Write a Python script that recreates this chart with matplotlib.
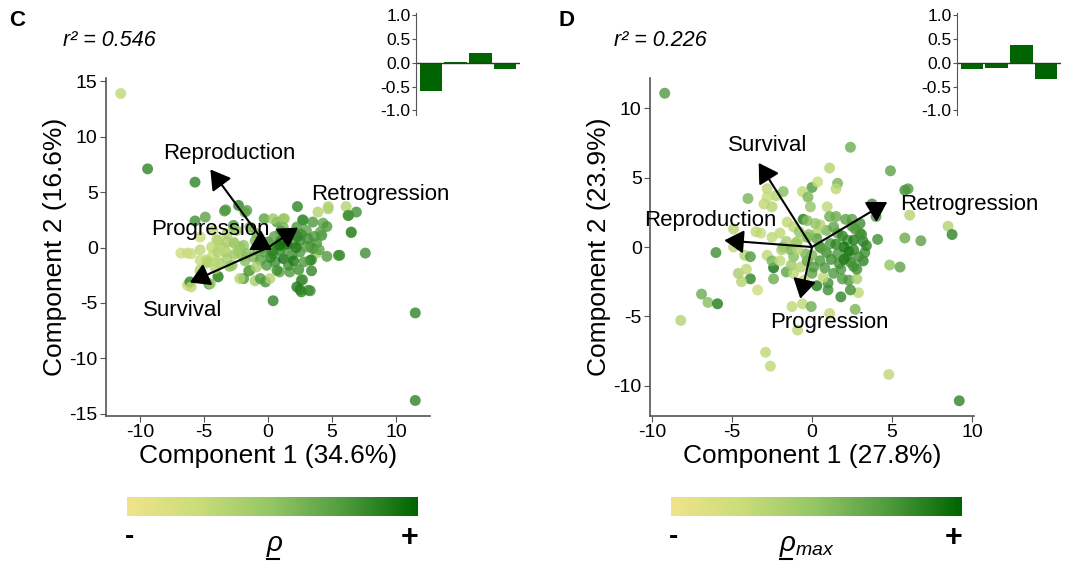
#### PCA biplots (panels C and D) with loading insets and colour bars

import numpy as np
import matplotlib
matplotlib.use('Agg')
import matplotlib.pyplot as plt
from matplotlib.colors import LinearSegmentedColormap
from matplotlib.cm import ScalarMappable
from matplotlib.lines import Line2D

plt.rcParams['font.family'] = ['Liberation Sans', 'DejaVu Sans']
plt.rcParams['mathtext.fontset'] = 'custom'
plt.rcParams['mathtext.rm'] = 'Liberation Sans'
plt.rcParams['mathtext.it'] = 'Liberation Sans:italic'
plt.rcParams['axes.unicode_minus'] = False

#### data ####

vital_rates = ['Survival', 'Progression', 'Retrogression', 'Reproduction']

# panel C scores (component 1, component 2, shade 0 = low rho, 1 = high rho)
c_x = [-11.5, -9.4, -5.7, -5.7, 11.5, 11.5, 7.6, 5.5, 4.6, 6.5, 6.9, 6.3, 6.1, 4.7, 3.9, 2.3,
       0.4, 3.3, 2.5, 2.7, 3.4, 2.4, 1.7, 0.9, -0.2, -1.0, -1.9, -1.5, -4.6, -6.3, -6.1, -3.9,
       -3.4, -2.3, -2.7, -0.3, 0.7, 1.3, 2.7, 3.5, 4.3, 4.6, 4.2, 3.8, 3.3, 3.8, 3.4,
       -6.8, -6.3, -5.3, -4.8, -4.3, -3.8, -3.3, -4.0, -2.7, -2.2, -1.95, -3.8, -3.0, -5.3, -4.8,
       -3.3, -1.8, 4.7, 6.25, 6.5, 5.6, -4.9, 0.4, 1.2, 2.75, 4.1, 3.5, 3.3, 0.7, 0.15, -0.6,
       -1.4, -2.2, 2.6, 2.25, 3.15, 2.6, -3.9, -4.5, -6.0, -4.1, -5.3, -6.0, -4.4, -3.9, -3.4,
       -5.3, -4.7, -4.0, -3.2, -2.8, -3.9, -3.2, -2.6, -1.9, -2.3, -1.65, -1.15, -0.6, -0.9,
       -0.1, 0.55, 1.2, 1.85, 2.5, 3.0, 2.5, 2.0, 1.45, 0.95, 0.4, 0.7, 1.45, 3.0, 2.25, -0.9,
       -1.4, -2.45, -3.2, -4.3, -5.3, -1.65, 0.0, 0.5, 1.0, 1.8, 2.2, -0.5, -1.0, 0.2, 1.6,
       2.8, -0.3, 1.2, 2.6, 3.6, 4.0, 1.5, 0.3, -0.8, 2.0, 3.1, 1.0, -1.8, 0.9, 2.3, -2.6]
c_y = [13.9, 7.1, 5.9, 2.4, -5.9, -13.8, -0.5, -0.7, -0.8, 1.4, 3.2, 2.9, 3.7, 3.5, 3.2, 3.7,
       -4.8, -3.9, -3.8, -2.9, -2.1, -2.0, -2.2, -2.2, -3.1, -3.0, -2.8, -2.1, -3.3, -3.4, -3.1, -2.6,
       3.3, 3.8, 2.0, 2.6, 2.3, 2.6, 2.5, 2.3, 2.2, 1.9, 1.1, 0.4, 0.1, -0.5, -1.1,
       -0.5, -0.5, -0.2, -1.1, -0.7, 0.1, -0.4, 0.7, 0.5, 0.1, -0.8, -1.4, -1.7, -2.0, -1.4,
       3.4, 3.2, 3.7, 2.9, 1.35, -0.7, 2.75, 2.6, 2.6, 2.45, 1.4, -0.1, -1.15, -2.05, -2.8, -2.8,
       -2.05, -2.8, -2.95, -3.55, -3.85, -4.0, -2.65, -3.25, -3.55, -1.9, -2.2, -0.55, 0.05, -0.4, -0.1,
       -1.15, -1.3, -1.3, -1.0, -1.6, 0.65, 0.5, 0.35, 0.2, -0.4, -0.55, -0.85, -1.15, -1.75,
       -1.6, -1.3, -1.0, -0.7, -0.4, 0.05, 0.65, 0.35, -0.1, -0.25, -0.55, 0.2, 0.95, 1.55, 1.85, 1.25,
       1.85, 1.55, 1.25, 1.55, 0.95, 3.35, 0.5, 1.0, 0.6, 1.2, 0.0, 0.0, 0.6, -0.9, -1.6,
       -1.3, -0.4, 1.8, 1.2, 1.0, -0.2, 0.3, -0.3, -0.3, -1.2, 0.8, 1.5, -1.2, 0.2, 1.0, -0.6]
c_v = [0.3, 0.85, 0.85, 0.8, 0.85, 0.85, 0.8, 0.8, 0.75, 0.8, 0.8, 0.75, 0.35, 0.4, 0.35, 0.85,
       0.85, 0.8, 0.85, 0.8, 0.85, 0.8, 0.75, 0.7, 0.8, 0.4, 0.75, 0.8, 0.8, 0.25, 0.85, 0.75,
       0.75, 0.85, 0.75, 0.7, 0.75, 0.35, 0.8, 0.75, 0.7, 0.75, 0.8, 0.75, 0.7, 0.4, 0.75,
       0.2, 0.25, 0.3, 0.3, 0.25, 0.3, 0.35, 0.3, 0.4, 0.4, 0.45, 0.4, 0.5, 0.35, 0.3,
       0.75, 0.7, 0.35, 0.8, 0.8, 0.8, 0.7, 0.45, 0.5, 0.8, 0.7, 0.8, 0.85, 0.8, 0.35, 0.75,
       0.65, 0.35, 0.8, 0.9, 0.8, 0.85, 0.8, 0.45, 0.3, 0.35, 0.3, 0.25, 0.3, 0.35, 0.3,
       0.25, 0.35, 0.3, 0.4, 0.5, 0.35, 0.4, 0.45, 0.5, 0.45, 0.55, 0.6, 0.7, 0.4,
       0.75, 0.8, 0.95, 0.8, 0.75, 0.7, 0.8, 0.75, 0.7, 0.8, 0.85, 0.75, 0.7, 0.7, 0.75, 0.6,
       0.65, 0.5, 0.4, 0.3, 0.25, 0.7, 0.8, 0.7, 0.85, 0.75, 0.9, 0.7, 0.6, 0.85, 0.8,
       0.75, 0.75, 0.6, 0.8, 0.75, 0.7, 0.9, 0.85, 0.65, 0.9, 0.8, 0.75, 0.55, 0.95, 0.85, 0.45]

# panel D scores (shade 0 = low rho_max, 1 = high rho_max)
d_x = [-9.2, 2.4, 4.9, 1.1, 1.6, 1.5, 0.0, 0.35, 5.8, 6.0, 6.1, 4.0, 8.5, 8.75, 5.8, 6.8,
       4.1, 4.85, 5.5, 4.8, 9.2, -2.9, -2.6, -0.9, -1.25, -0.6, -0.05, 1.1, 2.7, 2.9, 1.8, 1.0,
       -8.2, -6.9, -6.5, -5.9, -6.0, -4.9, -4.9, -4.0, -3.85, -4.6, -4.4, -3.4, -4.1, -4.2, -3.85,
       -3.0, -2.8, -2.25, -1.8, -2.8, -3.0, -2.5, -0.6, -0.25, -0.1, 0.95, 1.5, 2.1, 2.5, 3.75,
       -0.55, -1.55, -2.4, -2.4, -1.6, 0.3, 1.0, 1.9, 2.3, 2.8, 2.4, 1.8, 2.6, 3.2, 3.3, 3.2,
       3.0, 3.0, 2.7, -2.0, -2.5, -3.2, -3.5, -2.8, -2.5, -1.8, -2.0, -1.15, -0.7, -0.3, 0.5,
       0.9, 1.6, 2.2, 2.6, 2.2, 1.6, 0.9, 0.3, -0.3, -0.9, -1.35, -1.15, 0.5, 1.35, 2.0, 2.6,
       2.4, 2.8, 1.35, 0.7, 0.0, -0.5, 0.1, 0.5, 1.15, -0.3, -1.15,
       -1.0, -0.4, 0.3, 1.2, 1.9, 2.9, -1.6, -0.8, 0.8, 1.5, 2.3, 3.1, -1.3, -0.2, 0.6, 1.7,
       2.5, -0.9, 0.2, 1.1, 2.0, -1.9, 3.4, 0.0]
d_y = [11.1, 7.2, 5.5, 5.7, 4.6, 4.2, 4.3, 4.7, 4.1, 4.2, 2.3, 2.2, 1.5, 0.9, 0.65, 0.45,
       0.55, -1.3, -1.45, -9.2, -11.1, -7.6, -8.6, -6.0, -4.3, -4.1, -4.3, -4.8, -4.5, -3.3, -3.6, -3.1,
       -5.3, -3.4, -4.0, -4.1, -0.4, 0.0, 1.3, 3.5, -2.3, -1.9, -2.5, -3.1, -1.6, -0.6, -0.7,
       5.1, 4.2, 3.7, 4.0, 3.6, 3.1, 2.9, 4.0, 3.6, 2.9, 2.9, 2.2, 2.0, 2.0, 3.1,
       2.0, 1.8, -2.3, -1.5, -1.8, -2.8, -2.6, -2.3, -2.4, -2.3, -3.1, -1.6, -1.4, -1.0, -0.4, 0.4,
       1.0, 1.7, 1.3, 1.0, 0.7, 1.0, 1.1, -0.6, -1.0, 0.0, -1.0, -1.9, -1.45, -1.0, -1.0,
       -0.4, -0.5, -0.7, -0.2, 0.5, 1.0, 1.2, 1.0, 0.7, 0.4, -0.2, 1.45, 1.6, 1.45, 0.0, 0.5,
       -1.1, -1.6, -1.9, -2.2, -1.9, -2.4, -1.45, 0.0, 0.25, 1.9, -0.7,
       0.3, -0.5, 0.6, -0.9, 0.8, -0.7, 0.4, 1.1, -1.5, 0.2, -0.3, 0.9, -1.3, 0.9, -0.1, -1.2,
       1.5, -0.2, 1.7, 2.2, -0.9, -0.2, 0.1, -0.6]
d_v = [0.75, 0.65, 0.7, 0.35, 0.6, 0.3, 0.75, 0.25, 0.8, 0.75, 0.35, 0.75, 0.35, 0.85, 0.65, 0.7,
       0.8, 0.5, 0.7, 0.3, 0.85, 0.3, 0.3, 0.3, 0.3, 0.3, 0.65, 0.3, 0.6, 0.3, 0.85, 0.8,
       0.35, 0.65, 0.55, 0.9, 0.8, 0.3, 0.35, 0.6, 0.85, 0.4, 0.35, 0.2, 0.3, 0.35, 0.75,
       0.2, 0.3, 0.35, 0.55, 0.25, 0.3, 0.35, 0.3, 0.6, 0.5, 0.3, 0.65, 0.7, 0.7, 0.8,
       0.9, 0.3, 0.65, 0.95, 0.7, 0.9, 0.8, 0.75, 0.75, 0.4, 0.8, 0.75, 0.8, 0.85, 0.8, 0.85,
       0.8, 0.8, 0.75, 0.3, 0.3, 0.25, 0.3, 0.3, 0.6, 0.65, 0.3, 0.3, 0.35, 0.7, 0.75,
       0.8, 0.75, 0.8, 0.85, 0.75, 0.7, 0.6, 0.35, 0.6, 0.35, 0.6, 0.3, 0.35, 0.7, 0.95, 0.9,
       0.8, 0.8, 0.75, 0.3, 0.7, 0.3, 0.75, 0.9, 0.75, 0.55, 0.55,
       0.45, 0.6, 0.7, 0.8, 0.85, 0.8, 0.4, 0.5, 0.75, 0.85, 0.9, 0.8, 0.45, 0.55, 0.7, 0.8,
       0.75, 0.35, 0.5, 0.65, 0.9, 0.4, 0.85, 0.6]

# loading vectors (component 1, component 2) in the order of vital_rates
c_arrow_x = [-6.1, 0.3, 2.35, -4.5]
c_arrow_y = [-3.15, -0.2, 1.8, 7.05]
d_arrow_x = [-3.33, -0.73, 4.7, -5.48]
d_arrow_y = [6.07, -3.73, 3.25, 0.48]

# label positions
c_label_x = [-6.7, -4.5, 8.75, -3.0]
c_label_y = [-5.65, 1.65, 4.8, 8.5]
d_label_x = [-2.8, 1.1, 9.8, -6.35]
d_label_y = [7.35, -5.45, 3.1, 1.9]

# inset bar values
c_bars = [-0.6, 0.01, 0.2, -0.13]
d_bars = [-0.12, -0.1, 0.38, -0.35]

c_r2 = 0.546
d_r2 = 0.226
c_var = [34.6, 16.6]
d_var = [27.8, 23.9]

#### plotting ####

W, H = 1083, 564
fig = plt.figure(figsize=(W / 100, H / 100), dpi=100)

cmap = LinearSegmentedColormap.from_list('rho', ['#EFE38C', '#C8DC7A', '#93C563', '#4E9A3E', '#006400'])
spine_col = '#555555'


def biplot(left, xs, ys, vs, ax_x, ax_y, lab_x, lab_y, var, xlim, ylim, xticks, yticks):
    ax = fig.add_axes([left / W, 1 - 416 / H, 324 / W, 338 / H])
    ax.scatter(xs, ys, c=vs, cmap=cmap, vmin=0, vmax=1, s=62, alpha=0.8, edgecolors='none', zorder=2)
    for i in range(len(vital_rates)):
        ax.annotate('', xy=(ax_x[i], ax_y[i]), xytext=(0, 0),
                    arrowprops=dict(arrowstyle='-|>,head_length=0.7,head_width=0.42', mutation_scale=17,
                                    lw=1.5, color='black', shrinkA=0, shrinkB=0), zorder=3)
        ax.text(lab_x[i], lab_y[i], vital_rates[i], fontsize=16, ha='center', va='center', zorder=4)
    ax.set_xlim(xlim)
    ax.set_ylim(ylim)
    ax.set_xticks(xticks)
    ax.set_yticks(yticks)
    for s in ['top', 'right']:
        ax.spines[s].set_visible(False)
    for s in ['left', 'bottom']:
        ax.spines[s].set_color(spine_col)
        ax.spines[s].set_linewidth(1.2)
    ax.tick_params(labelsize=14, color=spine_col, length=4, pad=2)
    ax.set_xlabel('Component 1 (%.1f%%)' % var[0], fontsize=19, labelpad=2)
    ax.set_ylabel('Component 2 (%.1f%%)' % var[1], fontsize=19, labelpad=2)
    return ax


def inset(left, bars):
    ax = fig.add_axes([left / W, 1 - 115 / H, 104 / W, 102 / H])
    ax.bar(np.arange(1, 5), bars, width=0.9, color='#006400')
    ax.axhline(0, color='#333333', lw=1.0)
    ax.set_xlim(0.4, 4.6)
    ax.set_ylim(-1.1, 1.05)
    ax.set_yticks([-1.0, -0.5, 0.0, 0.5, 1.0])
    ax.set_yticklabels(['-1.0', '-0.5', '0.0', '0.5', '1.0'])
    ax.set_xticks([])
    for s in ['top', 'right', 'bottom']:
        ax.spines[s].set_visible(False)
    ax.spines['left'].set_color(spine_col)
    ax.tick_params(labelsize=12.5, color=spine_col, length=3, pad=1)
    ax.patch.set_alpha(0)


def colourbar(left, width, label, label_x):
    cax = fig.add_axes([left / W, 1 - 516 / H, width / W, 19 / H])
    cb = fig.colorbar(ScalarMappable(cmap=cmap), cax=cax, orientation='horizontal')
    cb.set_ticks([])
    cb.outline.set_visible(False)
    fig.text((left + 2) / W, 1 - 537 / H, '-', fontsize=20, fontweight='bold', ha='center', va='center')
    fig.text((left + width - 8) / W, 1 - 538 / H, '+', fontsize=22, fontweight='bold', ha='center', va='center')
    fig.text(label_x / W, 1 - 546 / H, label, fontsize=20, ha='left', va='center')
    fig.add_artist(Line2D([(label_x + 1) / W, (label_x + 13) / W], [1 - 559 / H, 1 - 559 / H],
                          color='black', lw=1.5))


axC = biplot(106, c_x, c_y, c_v, c_arrow_x, c_arrow_y, c_label_x, c_label_y, c_var,
             (-12.65, 12.65), (-15.2, 15.3), [-10, -5, 0, 5, 10], [-15, -10, -5, 0, 5, 10, 15])
axD = biplot(650, d_x, d_y, d_v, d_arrow_x, d_arrow_y, d_label_x, d_label_y, d_var,
             (-10.12, 10.12), (-12.2, 12.2), [-10, -5, 0, 5, 10], [-10, -5, 0, 5, 10])

inset(416, c_bars)
inset(957, d_bars)

fig.text(17 / W, 1 - 21 / H, 'C', fontsize=16, fontweight='bold', ha='center', va='center')
fig.text(567 / W, 1 - 21 / H, 'D', fontsize=16, fontweight='bold', ha='center', va='center')
fig.text(63 / W, 1 - 41 / H, 'r² = %.3f' % c_r2, fontsize=15.5, style='italic', ha='left', va='center')
fig.text(614 / W, 1 - 41 / H, 'r² = %.3f' % d_r2, fontsize=15.5, style='italic', ha='left', va='center')

colourbar(127, 291, r'$\rho$', 266)
colourbar(671, 291, r'$\rho_{max}$', 779)

fig.savefig('out.png', dpi=100)
